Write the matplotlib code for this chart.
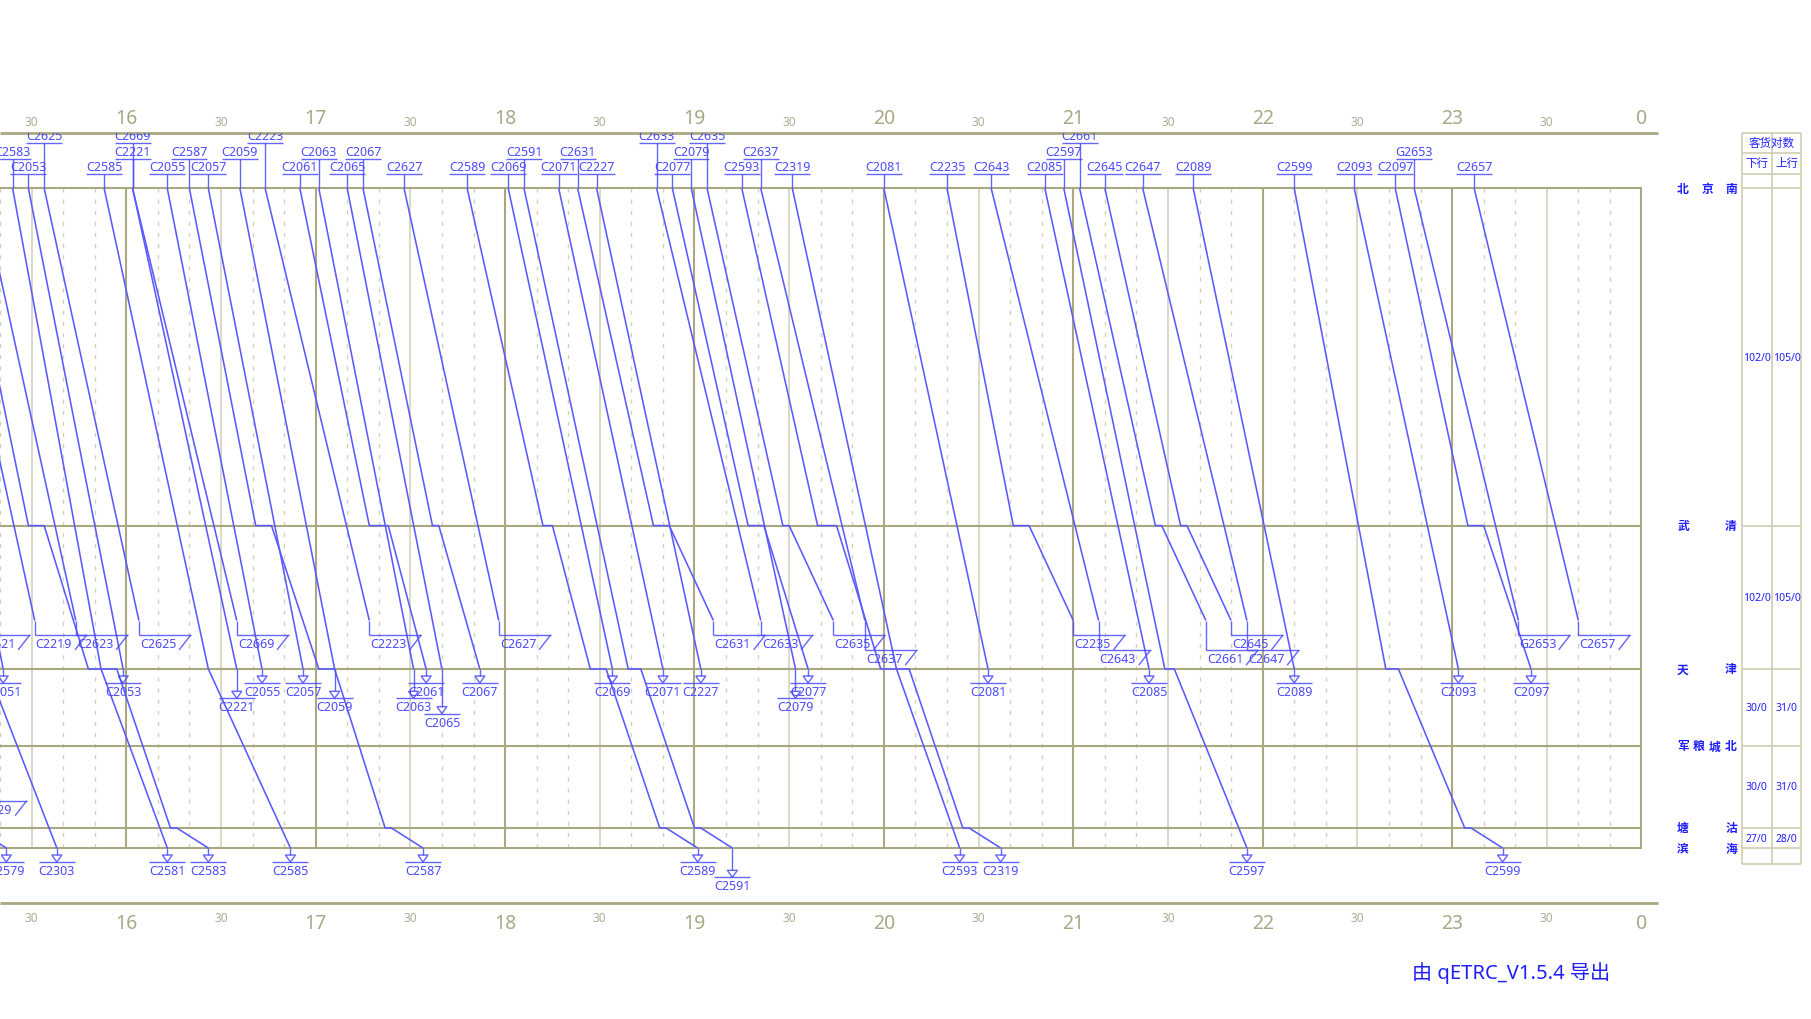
import matplotlib
matplotlib.use('Agg')
import matplotlib.pyplot as plt
from matplotlib import transforms

plt.rcParams['font.family'] = ['Noto Sans', 'Noto Sans CJK SC', 'DejaVu Sans']
plt.rcParams['lines.scale_dashes'] = False
plt.rcParams['lines.solid_capstyle'] = 'butt'

# 线路 (里程 km)
stations = ['北京南', '武清', '天津', '军粮城北', '塘沽', '滨海']
station_km = [0.0, 84.2, 120.0, 139.2, 159.7, 164.7]
junction_km = 107.9      # 跨线列车出图点
junction2_km = 145.5

# 客货对数 (区间)
down_pairs = ['102/0', '102/0', '30/0', '30/0', '27/0']
up_pairs = ['105/0', '105/0', '31/0', '31/0', '28/0']

hours = list(range(16, 25))
half_hours = list(range(15, 24))

# 北京南 -> 天津
tj_names = ['C2051', 'C2053', 'C2221', 'C2055', 'C2057', 'C2059', 'C2061', 'C2063', 'C2065', 'C2067',
            'C2069', 'C2071', 'C2227', 'C2077', 'C2079', 'C2081', 'C2085', 'C2089', 'C2093', 'C2097']
tj_dep = ['14:51', '15:29', '16:02', '16:13', '16:26', '16:36', '16:55', '17:01', '17:10', '17:15',
          '18:01', '18:17', '18:29', '18:53', '18:59', '20:00', '20:51', '21:38', '22:29', '22:42']
tj_wq_arr = [None, None, None, None, None, None, '17:17', None, None, '17:37',
             None, None, None, '19:17', None, None, None, None, None, '23:05']
tj_wq_dep = [None, None, None, None, None, None, '17:23', None, None, '17:39',
             None, None, None, '19:22', None, None, None, None, None, '23:10']
tj_arr = ['15:21', '15:59', '16:35', '16:43', '16:56', '17:06', '17:35', '17:31', '17:40', '17:52',
          '18:34', '18:50', '19:02', '19:36', '19:32', '20:33', '21:24', '22:10', '23:02', '23:25']

# 北京南 -> 跨线出图
pt_names = ['C2621', 'C2219', 'C2623', 'C2625', 'C2669', 'C2223', 'C2627', 'C2631', 'C2633', 'C2635',
            'C2637', 'C2235', 'C2643', 'C2661', 'C2645', 'C2647', 'G2653', 'C2657']
pt_dep = ['14:43', '15:01', '15:14', '15:34', '16:02', '16:44', '17:28', '18:23', '18:48', '19:04',
          '19:21', '20:20', '20:34', '21:02', '21:10', '21:22', '22:48', '23:07']
pt_wq_arr = [None, None, None, None, None, None, None, '18:47', None, '19:28',
             None, '20:41', None, '21:26', '21:34', None, None, None]
pt_wq_dep = [None, None, None, None, None, None, None, '18:52', None, '19:30',
             None, '20:46', None, '21:28', '21:36', None, None, None]
pt_end = ['15:13', '15:31', '15:44', '16:04', '16:35', '17:17', '17:58', '19:06', '19:21', '19:44',
          '19:54', '21:00', '21:08', '21:42', '21:50', '21:55', '23:21', '23:40']

j2_names = ['C2629']
j2_end = ['15:12']

# 北京南 -> 滨海
bh_names = ['C2579', 'C2303', 'C2581', 'C2583', 'C2585', 'C2587', 'C2589', 'C2591', 'C2593', 'C2319',
            'C2597', 'C2599']
bh_dep = ['14:25', '14:45', '15:07', '15:24', '15:53', '16:20', '17:48', '18:06', '19:15', '19:31',
          '20:57', '22:10']
bh_wq_arr = [None, None, '15:29', None, None, '16:41', '18:12', None, '19:39', None, None, None]
bh_wq_dep = [None, None, '15:34', None, None, '16:46', '18:15', None, '19:45', None, None, None]
bh_tj_arr = ['14:57', '15:14', '15:48', '15:52', '16:26', '17:01', '18:27', '18:39', '19:59', '20:04',
             '21:29', '22:39']
bh_tj_dep = ['15:00', '15:16', '15:52', '15:57', '16:26', '17:06', '18:32', '18:43', '20:04', '20:08',
             '21:32', '22:43']
bh_tg_arr = ['15:10', None, None, '16:14', None, '17:22', '18:49', '19:00', None, '20:25', None, '23:04']
bh_tg_dep = ['15:12', None, None, '16:16', None, '17:24', '18:51', '19:02', None, '20:27', None, '23:06']
bh_arr = ['15:22', '15:38', '16:13', '16:26', '16:52', '17:34', '19:01', '19:12', '20:24', '20:37',
          '21:55', '23:16']

GRID_DARK = '#aaa880'
GRID_LIGHT = '#d4d2bc'
TRAIN = '#5a5aff'
LABEL = '#4a4aff'
TEXT_BLUE = '#1e1eff'


def tm(s):
    if s is None:
        return None
    h, m = s.split(':')
    return int(h) * 60 + float(m)


W, H = 1811, 1020
fig = plt.figure(figsize=(W / 100, H / 100), dpi=100)
pax = fig.add_axes([0, 0, 1, 1])
pax.set_xlim(0, W)
pax.set_ylim(H, 0)
pax.axis('off')

ax = fig.add_axes([0, 1 - 904 / H, 1641.5 / W, (904 - 134.3) / H])
x0, x1 = 15 * 60 + 20, 24 * 60
ax.set_xlim(x0, x1)
ax.set_ylim(178.43, -13.76)
ax.axis('off')
ax.patch.set_visible(False)

ppm = ax.bbox.width / (x1 - x0)
ppk = ax.bbox.height / (178.43 + 13.76)


def dx(px):
    return px / ppm


def dy(px):
    return px / ppk


# 网格
top_km, bot_km = station_km[0], station_km[-1]
for m in range(x0, x1 + 1, 10):
    if m % 60 == 0:
        ax.plot([m, m], [top_km, bot_km], color=GRID_DARK, lw=1.5, zorder=1)
    elif m % 30 == 0:
        ax.plot([m, m], [top_km, bot_km], color=GRID_LIGHT, lw=1.2, zorder=1)
    else:
        ax.plot([m, m], [top_km, bot_km], color=GRID_LIGHT, lw=1.0,
                linestyle=(0, (3, 5)), zorder=1)
for km in station_km:
    ax.axhline(km, color=GRID_DARK, lw=1.5, zorder=1)

# 时间轴
pax.plot([0, 1658], [134.3, 134.3], color=GRID_DARK, lw=2)
pax.plot([0, 1658], [904, 904], color=GRID_DARK, lw=2)
tx = transforms.blended_transform_factory(ax.transData, pax.transData)
for h in hours:
    for yy in (118.8, 924.5):
        ax.text(h * 60, yy, str(h % 24), transform=tx, ha='center', va='center',
                fontsize=14, color='#a9a886', clip_on=False)
for h in half_hours:
    for yy in (122.3, 918.5):
        ax.text(h * 60 + 30, yy, '30', transform=tx, ha='center', va='center',
                fontsize=8.5, color='#adac95', clip_on=False)

# 运行线
def draw_path(pts):
    ax.plot([p[0] for p in pts], [p[1] for p in pts], color=TRAIN, lw=1.15, zorder=3)


start_marks, tj_marks, bh_marks, pt_marks = [], [], [], []
for i, n in enumerate(tj_names):
    pts = [(tm(tj_dep[i]), station_km[0])]
    if tj_wq_arr[i]:
        pts += [(tm(tj_wq_arr[i]), station_km[1]), (tm(tj_wq_dep[i]), station_km[1])]
    pts.append((tm(tj_arr[i]), station_km[2]))
    draw_path(pts)
    start_marks.append((n, tm(tj_dep[i])))
    tj_marks.append((n, tm(tj_arr[i])))

for i, n in enumerate(pt_names):
    pts = [(tm(pt_dep[i]), station_km[0])]
    if pt_wq_arr[i]:
        pts += [(tm(pt_wq_arr[i]), station_km[1]), (tm(pt_wq_dep[i]), station_km[1])]
    pts.append((tm(pt_end[i]), junction_km))
    draw_path(pts)
    start_marks.append((n, tm(pt_dep[i])))
    pt_marks.append((n, tm(pt_end[i]), junction_km))

for i, n in enumerate(j2_names):
    pt_marks.append((n, tm(j2_end[i]), junction2_km))

for i, n in enumerate(bh_names):
    pts = [(tm(bh_dep[i]), station_km[0])]
    if bh_wq_arr[i]:
        pts += [(tm(bh_wq_arr[i]), station_km[1]), (tm(bh_wq_dep[i]), station_km[1])]
    pts += [(tm(bh_tj_arr[i]), station_km[2]), (tm(bh_tj_dep[i]), station_km[2])]
    if bh_tg_arr[i]:
        pts += [(tm(bh_tg_arr[i]), station_km[4]), (tm(bh_tg_dep[i]), station_km[4])]
    pts.append((tm(bh_arr[i]), station_km[5]))
    draw_path(pts)
    start_marks.append((n, tm(bh_dep[i])))
    bh_marks.append((n, tm(bh_arr[i])))


def assign_levels(marks, width_px, left=False):
    levels, used = {}, []
    for mk in sorted(marks, key=lambda a: a[0]):
        t = mk[1]
        lo = t if left else t - dx(width_px / 2)
        hi = lo + dx(width_px)
        lv = 0
        while True:
            if lv >= len(used):
                used.append([])
            if all(hi <= a or lo >= b for a, b in used[lv]):
                used[lv].append((lo, hi))
                break
            lv += 1
        levels[mk[0]] = lv
    return levels


LBL = dict(fontsize=9, color=LABEL, clip_on=True, zorder=4)
MK = dict(color=LABEL, lw=1.0, alpha=0.85, zorder=4)

lv = assign_levels(start_marks, 36)
for n, t in start_marks:
    ul = -dy(14.4 + 15.3 * lv[n])
    ax.plot([t, t], [0, ul], **MK)
    ax.plot([t - dx(18), t + dx(18)], [ul, ul], **MK)
    ax.text(t, ul - dy(4), n, ha='center', va='baseline', **LBL)


def end_marks(marks, skm):
    lv = assign_levels(marks, 36)
    for n, t in marks:
        top = 7 + 15.3 * lv[n]
        tip = top + 7
        ax.plot([t, t], [skm, skm + dy(top)], **MK)
        ax.plot([t - dx(5), t + dx(5), t, t - dx(5)],
                [skm + dy(top), skm + dy(top), skm + dy(tip), skm + dy(top)], **MK)
        ax.plot([t - dx(18), t + dx(18)], [skm + dy(tip)] * 2, **MK)
        ax.text(t, skm + dy(tip + 12), n, ha='center', va='baseline', **LBL)


end_marks(tj_marks, station_km[2])
end_marks(bh_marks, station_km[5])

lvp = assign_levels([(m[0], m[1]) for m in pt_marks], 36, left=True)
for n, t, km in pt_marks:
    ul = km + dy(14.3 + 15.3 * lvp[n])
    ax.plot([t, t], [km, ul], **MK)
    ax.plot([t, t + dx(52)], [ul, ul], **MK)
    ax.plot([t + dx(52), t + dx(40.3)], [ul, ul + dy(15)], **MK)
    ax.text(t + dx(1), ul + dy(12), n, ha='left', va='baseline', **LBL)

# 站名
sx = transforms.blended_transform_factory(pax.transData, ax.transData)
for name, km in zip(stations, station_km):
    n = len(name)
    for j, ch in enumerate(name):
        xc = 1683 + j * 48 / (n - 1)
        pax.text(xc, km, ch, transform=sx, ha='center', va='center',
                 fontsize=8.5, color=TEXT_BLUE, fontweight='bold')

# 客货对数表
TBL = '#cfcdb4'
cols = [1741.7, 1772, 1801.3]
for xc in cols:
    pax.plot([xc, xc], [134.3, 865], color=TBL, lw=1.2)
for yy in (134.3, 154.3, 175, 865):
    pax.plot([cols[0], cols[-1]], [yy, yy], color=TBL, lw=1.2)
for km in station_km:
    pax.plot([cols[0], cols[-1]], [km, km], color=TBL, lw=1.2, transform=sx)
pax.text(1771.5, 144.5, '客货对数', ha='center', va='center', fontsize=8.3, color=TEXT_BLUE)
pax.text(1756.9, 164.6, '下行', ha='center', va='center', fontsize=8.3, color=TEXT_BLUE)
pax.text(1786.7, 164.6, '上行', ha='center', va='center', fontsize=8.3, color=TEXT_BLUE)
for k in range(len(down_pairs)):
    mid = (station_km[k] + station_km[k + 1]) / 2
    pax.text(1756.9, mid, down_pairs[k], transform=sx, ha='center', va='center',
             fontsize=7.5, color=TEXT_BLUE)
    pax.text(1786.7, mid, up_pairs[k], transform=sx, ha='center', va='center',
             fontsize=7.5, color=TEXT_BLUE)

pax.text(1511, 973, '由 qETRC_V1.5.4 导出', ha='center', va='center', fontsize=14.5, color=TEXT_BLUE)

fig.savefig('out.png', dpi=100, facecolor='white')
